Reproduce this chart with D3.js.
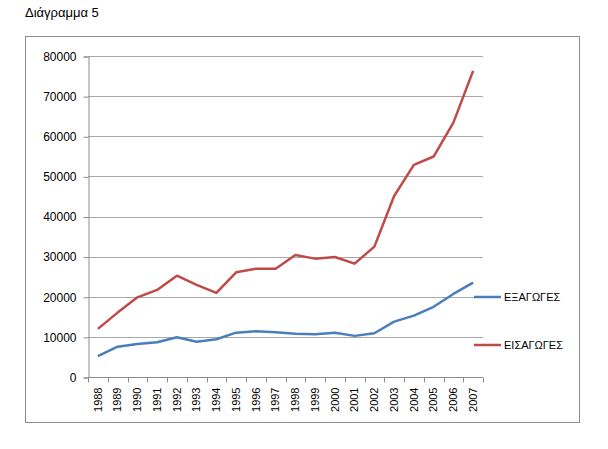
<!DOCTYPE html>
<html>
<head>
<meta charset="utf-8">
<script src="https://cdnjs.cloudflare.com/ajax/libs/d3/7.8.5/d3.min.js"></script>
<style>
	body { margin: 0; background: #fff; }
	text { font-family: "Liberation Sans", Arial, sans-serif; }
</style>
</head>
<body>
<div id="chart"></div>
<script>
	var years = ['1988','1989','1990','1991','1992','1993','1994','1995','1996','1997',
		'1998','1999','2000','2001','2002','2003','2004','2005','2006','2007'];

	// ΕΞΑΓΩΓΕΣ
	var exportsVals = [5200, 7550, 8250, 8650, 9900, 8800, 9400, 11050, 11400, 11150,
		10800, 10650, 11050, 10250, 10900, 13800, 15300, 17500, 20700, 23500];

	// ΕΙΣΑΓΩΓΕΣ
	var importsVals = [12000, 16050, 19850, 21700, 25250, 22950, 20950, 26100, 27000, 27000,
		30400, 29500, 29900, 28250, 32500, 45100, 52850, 54950, 63400, 76300];

	var yTicks = [0, 10000, 20000, 30000, 40000, 50000, 60000, 70000, 80000];

	var seriesNames = ['ΕΞΑΓΩΓΕΣ', 'ΕΙΣΑΓΩΓΕΣ'];
	var seriesColors = ['#4A7EBB', '#BE4B48'];

	var W = 608, H = 449;
	var plot = {left: 88, right: 483, top: 56, bottom: 377};

	var svg = d3.select('#chart').append('svg')
		.attr('width', W).attr('height', H);

	svg.append('text')
		.attr('x', 25).attr('y', 17)
		.attr('font-size', 13)
		.attr('fill', '#000')
		.text('Διάγραμμα 5');

	// outer chart frame
	svg.append('rect')
		.attr('x', 25.5).attr('y', 36.5)
		.attr('width', 554).attr('height', 386)
		.attr('fill', 'none')
		.attr('stroke', '#8C8C8C')
		.attr('stroke-width', 1);

	var x = d3.scaleBand().domain(years)
		.range([plot.left, plot.right]);

	var y = d3.scaleLinear().domain([0, 80000])
		.range([plot.bottom, plot.top]);

	// gridlines
	svg.append('g').selectAll('line')
		.data(yTicks.slice(1))
		.enter().append('line')
			.attr('x1', plot.left).attr('x2', plot.right)
			.attr('y1', function(d){ return Math.round(y(d)) + 0.5; })
			.attr('y2', function(d){ return Math.round(y(d)) + 0.5; })
			.attr('stroke', '#A8A8A8')
			.attr('stroke-width', 1);

	var yAxis = svg.append('g')
		.attr('transform', 'translate(' + (plot.left + 0.5) + ',0.5)')
		.call(d3.axisLeft(y).tickValues(yTicks).tickSize(5).tickPadding(7)
			.tickFormat(function(d){ return d; }));

	var xAxis = svg.append('g')
		.attr('transform', 'translate(0,' + (Math.round(plot.bottom) + 0.5) + ')')
		.call(d3.axisBottom(x).tickSize(0).tickPadding(6));

	// tick marks sit on category boundaries
	xAxis.selectAll('.bound')
		.data(years.concat(['end']))
		.enter().append('line')
			.attr('class', 'bound')
			.attr('x1', function(d, i){ return Math.round(plot.left + i * x.step()) + 0.5; })
			.attr('x2', function(d, i){ return Math.round(plot.left + i * x.step()) + 0.5; })
			.attr('y1', 0).attr('y2', 5)
			.attr('stroke', '#8C8C8C');

	[yAxis, xAxis].forEach(function(ax){
		ax.select('.domain').attr('stroke', '#8C8C8C');
		ax.selectAll('.tick line').attr('stroke', '#8C8C8C');
		ax.selectAll('text')
			.attr('font-family', '"Liberation Sans", Arial, sans-serif')
			.attr('fill', '#000');
	});
	yAxis.selectAll('text').attr('font-size', 12);
	xAxis.selectAll('text').attr('font-size', 11);
	xAxis.select('.domain').attr('d', 'M' + plot.left + ',0H' + plot.right);

	xAxis.selectAll('.tick text')
		.attr('transform', 'rotate(-90)')
		.attr('text-anchor', 'end')
		.attr('dy', '0.35em')
		.attr('x', -10)
		.attr('y', 0);

	var line = d3.line()
		.x(function(d, i){ return x(years[i]) + x.bandwidth() / 2; })
		.y(function(d){ return y(d); });

	[exportsVals, importsVals].forEach(function(vals, k){
		svg.append('path')
			.datum(vals)
			.attr('d', line)
			.attr('fill', 'none')
			.attr('stroke', seriesColors[k])
			.attr('stroke-width', 2.5)
			.attr('stroke-linejoin', 'round');
	});

	// legend
	var legend = svg.append('g');
	var legY = [297, 345];
	seriesNames.forEach(function(name, k){
		legend.append('line')
			.attr('x1', 474).attr('x2', 501)
			.attr('y1', legY[k]).attr('y2', legY[k])
			.attr('stroke', seriesColors[k])
			.attr('stroke-width', 2.5);
		legend.append('text')
			.attr('x', 504).attr('y', legY[k])
			.attr('dy', '0.35em')
			.attr('font-size', 11)
			.attr('fill', '#000')
			.text(name);
	});
</script>
</body>
</html>
